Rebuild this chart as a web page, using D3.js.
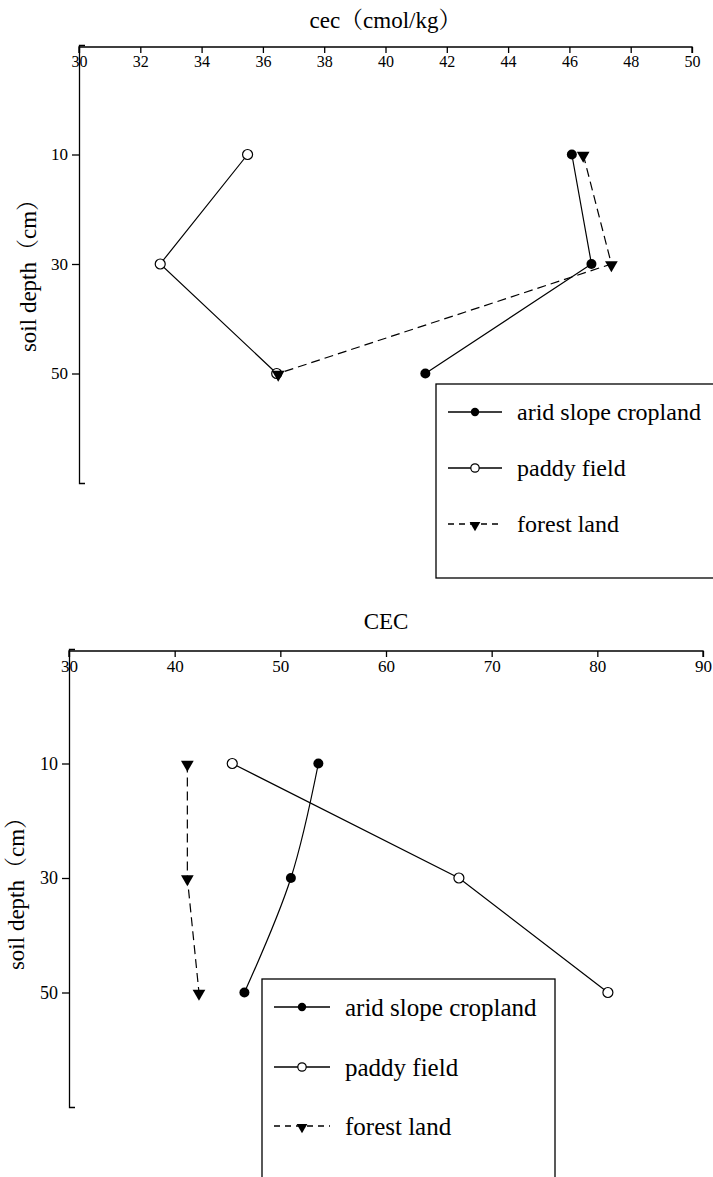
<!DOCTYPE html>
<html>
<head>
<meta charset="utf-8">
<script src="https://cdn.jsdelivr.net/npm/d3@7"></script>
<style>
  html, body { margin: 0; padding: 0; background: #fff; }
  svg { display: block; }
  text { font-family: "Liberation Serif", "Times New Roman", "Noto Serif CJK SC", "Noto Sans CJK SC", serif; fill: #000; }
</style>
</head>
<body>
<svg id="chart" width="713" height="1177"></svg>
<script>
// ---------- data ----------
const depths = [10, 30, 50];
const yTicks = [10, 30, 50];
const seriesNames = ["arid slope cropland", "paddy field", "forest land"];

// chart 1: cec (cmol/kg)
const cec1Arid   = [46.08, 46.72, 41.3];
const cec1Paddy  = [35.5, 32.65, 36.45];
const cec1Forest = [46.45, 47.37, 36.5];
const xTicks1 = [30, 32, 34, 36, 38, 40, 42, 44, 46, 48, 50];
const title1 = "cec（cmol/kg）";

// chart 2: CEC
const cec2Arid   = [53.6, 51.0, 46.6];
const cec2Paddy  = [45.45, 66.9, 81.0];
const cec2Forest = [41.2, 41.2, 42.3];
const xTicks2 = [30, 40, 50, 60, 70, 80, 90];
const title2 = "CEC";

const yLabel = "soil depth（cm）";

// ---------- drawing ----------
const svg = d3.select("#chart");

function drawPanel(cfg) {
  const g = svg.append("g");
  const x = d3.scaleLinear().domain(cfg.xDomain).range([cfg.left, cfg.right]);
  const y = d3.scaleLinear().domain([-10, 70]).range([cfg.top, cfg.bottom]);

  const xa = g.append("g")
    .attr("transform", `translate(0,${cfg.xAxisY})`)
    .call(d3.axisBottom(x).tickValues(cfg.xTicks).tickSize(6).tickPadding(cfg.xPad).tickFormat(d3.format("d")));
  xa.selectAll("text").style("font-size", cfg.xFont + "px");
  xa.selectAll("path,line").attr("stroke", "#000").attr("stroke-width", 1.3);
  xa.select(".domain").attr("d", `M${cfg.left},6V0H${cfg.right}V6`);

  const ya = g.append("g")
    .attr("transform", `translate(${cfg.left},0)`)
    .call(d3.axisLeft(y).tickValues(yTicks).tickSizeInner(7).tickSizeOuter(-6).tickPadding(4));
  ya.selectAll("text").style("font-size", cfg.yFont + "px");
  ya.selectAll("path,line").attr("stroke", "#000").attr("stroke-width", 1.3);

  g.append("text").attr("x", (cfg.left + cfg.right) / 2).attr("y", cfg.titleY)
    .attr("text-anchor", "middle").attr("dominant-baseline", "central")
    .style("font-size", cfg.titleFont + "px").text(cfg.title);
  g.append("text")
    .attr("transform", `translate(${cfg.yLabelX},${cfg.yLabelY}) rotate(-90)`)
    .attr("text-anchor", "middle").attr("dominant-baseline", "central")
    .style("font-size", cfg.yLabelFont + "px").text(yLabel);

  const series = [
    { vals: cfg.arid, marker: "filled", dash: null, curve: cfg.aridCurve },
    { vals: cfg.paddy, marker: "open", dash: null, curve: d3.curveLinear },
    { vals: cfg.forest, marker: "tri", dash: "9,5", curve: d3.curveLinear }
  ];
  const tri = d3.symbol().type(d3.symbolTriangle).size(70);

  series.forEach(s => {
    const pts = depths.map((d, i) => [x(s.vals[i]), y(d)]);
    g.append("path").attr("d", d3.line().curve(s.curve)(pts))
      .attr("fill", "none").attr("stroke", "#000").attr("stroke-width", 1.2)
      .attr("stroke-dasharray", s.dash);
  });
  series.forEach(s => {
    depths.forEach((d, i) => drawMarker(g, s.marker, x(s.vals[i]), y(d), 5, tri));
  });

  const L = cfg.legend;
  g.append("rect").attr("x", L.x).attr("y", L.y).attr("width", L.w).attr("height", L.h)
    .attr("fill", "none").attr("stroke", "#000").attr("stroke-width", 1.3);
  const triS = d3.symbol().type(d3.symbolTriangle).size(50);
  series.forEach((s, i) => {
    const ly = L.rows[i];
    g.append("line").attr("x1", L.lx1).attr("x2", L.lx2).attr("y1", ly).attr("y2", ly)
      .attr("stroke", "#000").attr("stroke-width", 1.3).attr("stroke-dasharray", s.dash ? "6,5" : null);
    drawMarker(g, s.marker, (L.lx1 + L.lx2) / 2, ly, 4.2, triS);
    g.append("text").attr("x", L.tx).attr("y", ly).attr("dominant-baseline", "central")
      .style("font-size", L.font + "px").text(seriesNames[i]);
  });
}

function drawMarker(g, type, cx, cy, r, tri) {
  if (type === "filled") {
    g.append("circle").attr("cx", cx).attr("cy", cy).attr("r", r).attr("fill", "#000");
  } else if (type === "open") {
    g.append("circle").attr("cx", cx).attr("cy", cy).attr("r", r)
      .attr("fill", "#fff").attr("stroke", "#000").attr("stroke-width", 1.2);
  } else {
    g.append("path").attr("d", tri).attr("fill", "#000")
      .attr("transform", `translate(${cx},${cy + 1}) rotate(180)`);
  }
}

drawPanel({
  xDomain: [30, 50], xTicks: xTicks1, left: 79, right: 692,
  top: 45, bottom: 483, xAxisY: 47, xPad: 3, xFont: 16, yFont: 17,
  title: title1, titleY: 20, titleFont: 23, yLabelX: 28, yLabelY: 270, yLabelFont: 23,
  arid: cec1Arid, paddy: cec1Paddy, forest: cec1Forest, aridCurve: d3.curveLinear,
  legend: { x: 436, y: 384, w: 300, h: 194, lx1: 448, lx2: 502, tx: 517, rows: [412, 468, 524], font: 24 }
});

drawPanel({
  xDomain: [30, 90], xTicks: xTicks2, left: 69, right: 703,
  top: 649, bottom: 1107, xAxisY: 651, xPad: 3, xFont: 17, yFont: 18,
  title: title2, titleY: 621, titleFont: 23, yLabelX: 16, yLabelY: 888, yLabelFont: 23,
  arid: cec2Arid, paddy: cec2Paddy, forest: cec2Forest, aridCurve: d3.curveCatmullRom,
  legend: { x: 262, y: 979, w: 293, h: 240, lx1: 274, lx2: 330, tx: 345, rows: [1007, 1067, 1126], font: 25 }
});
</script>
</body>
</html>
